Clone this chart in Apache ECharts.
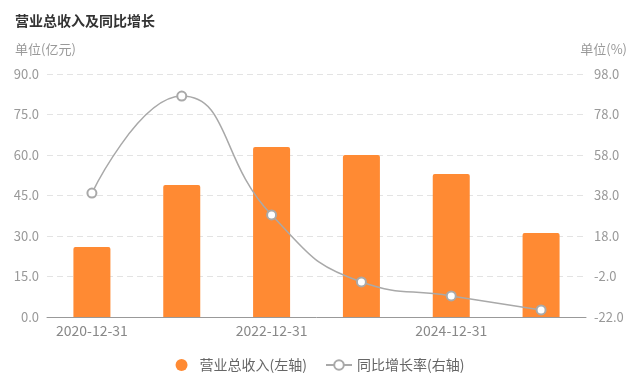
<!DOCTYPE html>
<html><head><meta charset="utf-8">
<script src="https://cdn.jsdelivr.net/npm/echarts@6/dist/echarts.min.js"></script>
<style>html,body{margin:0;padding:0;background:#fff}#c{width:640px;height:383px}</style>
</head><body><div id="c"></div>
<script>
const categories = ['2020-12-31','2021-12-31','2022-12-31','2023-12-31','2024-12-31','2025-12-31'];
const revenue = [25.9, 48.9, 63.0, 60.0, 53.0, 31.1];
const growth = [39.2, 87.1, 28.4, -4.7, -11.6, -18.5];
const font = "'Noto Sans CJK SC', 'Noto Sans', sans-serif";
const chart = echarts.init(document.getElementById('c'));
chart.setOption({
  animation: false,
  textStyle: {fontFamily: font},
  title: [
    {text: '营业总收入及同比增长', left: 10, top: 9, textStyle: {fontSize: 14, fontWeight: 'bold', color: '#333', fontFamily: font}},
    {text: '单位(亿元)', left: 10, top: 38, textStyle: {fontSize: 13, fontWeight: 'normal', color: '#999', fontFamily: font}},
    {text: '单位(%)', right: 8, top: 38, textStyle: {fontSize: 13, fontWeight: 'normal', color: '#999', fontFamily: font}}
  ],
  grid: {left: 47, right: 54, top: 74, bottom: 66},
  legend: {
    bottom: 6, left: 'center', itemGap: 18, itemWidth: 26, itemHeight: 12,
    textStyle: {color: '#666', fontSize: 14, fontFamily: font},
    data: [{name: '营业总收入(左轴)', icon: 'circle'}, {name: '同比增长率(右轴)'}]
  },
  xAxis: {
    type: 'category', data: categories,
    axisLine: {lineStyle: {color: '#999'}},
    axisTick: {alignWithLabel: true, interval: 1, lineStyle: {color: '#999'}},
    axisLabel: {interval: 1, color: '#888', fontSize: 14, margin: 7, fontFamily: font}
  },
  yAxis: [
    {type: 'value', min: 0, max: 90, interval: 15,
     axisLabel: {formatter: v => v.toFixed(1), color: '#999', fontSize: 13, margin: 8, fontFamily: font},
     axisLine: {show: false}, axisTick: {show: false},
     splitLine: {lineStyle: {type: [6, 4], color: '#e3e3e3'}}},
    {type: 'value', min: -22, max: 98, interval: 20,
     axisLabel: {formatter: v => v.toFixed(1), color: '#999', fontSize: 13, margin: 8, fontFamily: font},
     axisLine: {show: false}, axisTick: {show: false},
     splitLine: {show: false}}
  ],
  series: [
    {name: '营业总收入(左轴)', type: 'bar', data: revenue, barWidth: 37,
     itemStyle: {color: '#ff8a33', borderRadius: [2, 2, 0, 0]}},
    {name: '同比增长率(右轴)', type: 'line', yAxisIndex: 1, data: growth, smooth: true,
     symbol: 'emptyCircle', symbolSize: 9,
     lineStyle: {color: '#a9a9a9', width: 1.5},
     itemStyle: {color: '#a9a9a9', borderWidth: 2}}
  ]
});
</script></body></html>
